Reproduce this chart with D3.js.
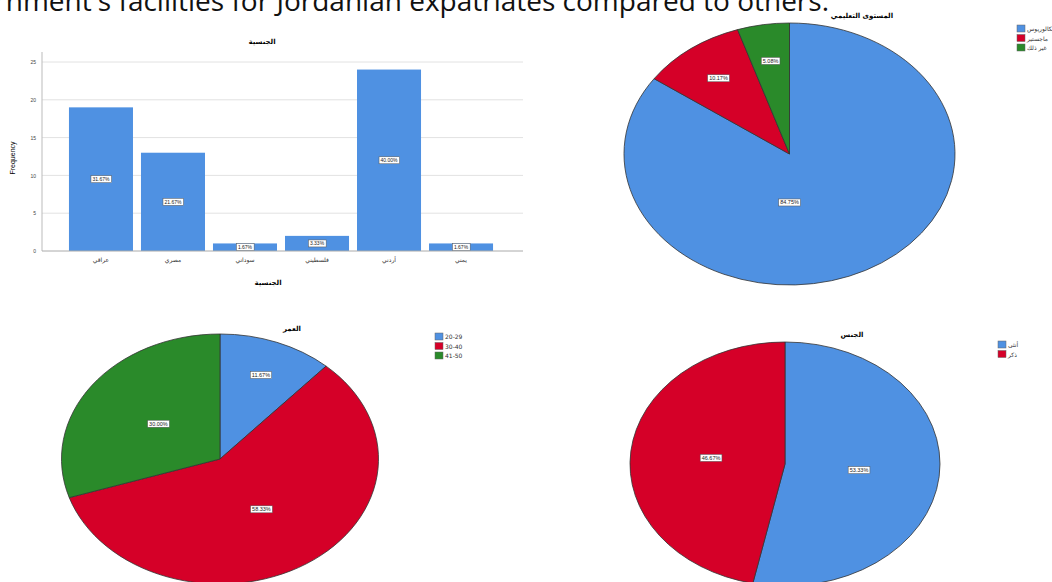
<!DOCTYPE html>
<html>
<head>
<meta charset="utf-8">
<script src="https://cdn.jsdelivr.net/npm/d3@7"></script>
<style>
  body { margin: 0; background: #fff; }
  svg { display: block; }
  .ar { font-family: "DejaVu Sans", sans-serif; }
</style>
</head>
<body>
<div id="chart"></div>
<script>
// data
var nationalityCats = ["عراقي", "مصري", "سوداني", "فلسطيني", "أردني", "يمني"];
var nationalityCounts = [19, 13, 1, 2, 24, 1];
var freqTicks = [0, 5, 10, 15, 20, 25];

var educationCats = ["بكالوريوس", "ماجستير", "غير ذلك"];
var educationPct = [84.75, 10.17, 5.08];

var ageCats = ["20-29", "30-40", "41-50"];
var agePct = [11.67, 58.33, 30.00];

var genderCats = ["أنثى", "ذكر"];
var genderPct = [53.33, 46.67];

var W = 1052, H = 582;
var colors = ["#4f91e2", "#d50028", "#2a8a2a"];

var svg = d3.select("#chart").append("svg")
    .attr("width", W).attr("height", H);

// slide heading, cut off at the top and left
svg.append("text")
    .attr("x", 829).attr("y", 11)
    .attr("text-anchor", "end")
    .attr("font-family", "Open Sans, sans-serif")
    .attr("font-size", 28)
    .attr("fill", "#111")
    .text("government's facilities for Jordanian expatriates compared to others.");

function pctLabel(g, x, y, txt, size) {
    var t = g.append("text")
        .attr("x", x).attr("y", y)
        .attr("text-anchor", "middle")
        .attr("dominant-baseline", "central")
        .attr("font-family", "Liberation Sans, sans-serif")
        .attr("font-size", size)
        .attr("fill", "#222")
        .text(txt);
    var b = t.node().getBBox();
    g.insert("rect", function() { return t.node(); })
        .attr("x", b.x - 1.5).attr("y", b.y - 0.5)
        .attr("width", b.width + 3).attr("height", b.height + 1)
        .attr("fill", "#fff")
        .attr("stroke", "#555").attr("stroke-width", 0.5);
}

// ---- bar chart: nationality ----
var total = d3.sum(nationalityCounts);
var x = d3.scaleBand()
    .domain(nationalityCats)
    .range([65, 497])
    .paddingInner(0.111)
    .paddingOuter(0.055);
var y = d3.scaleLinear().domain([0, 25]).range([251, 62]);

var bar = svg.append("g");

bar.append("g")
    .selectAll("line")
    .data(freqTicks.slice(1))
    .join("line")
    .attr("x1", 42).attr("x2", 523)
    .attr("y1", function(d) { return y(d); })
    .attr("y2", function(d) { return y(d); })
    .attr("stroke", "#e2e2e2").attr("stroke-width", 1);

bar.selectAll("rect.bar")
    .data(nationalityCounts)
    .join("rect")
    .attr("class", "bar")
    .attr("x", function(d, i) { return x(nationalityCats[i]); })
    .attr("y", function(d) { return y(d); })
    .attr("width", x.bandwidth())
    .attr("height", function(d) { return y(0) - y(d); })
    .attr("fill", colors[0]);

var yAxis = bar.append("g")
    .attr("transform", "translate(42,0)")
    .call(d3.axisLeft(y).tickValues(freqTicks).tickSize(0).tickPadding(6));
yAxis.select(".domain").attr("stroke", "#bbb").attr("d", "M0,52V251");
yAxis.selectAll("text").attr("font-size", 5).attr("fill", "#444");

var xAxis = bar.append("g")
    .attr("transform", "translate(0,251)")
    .call(d3.axisBottom(x).tickSize(0).tickPadding(7));
xAxis.select(".domain").attr("stroke", "#aaa").attr("d", "M42,0H523");
xAxis.selectAll("text").attr("class", "ar").attr("font-size", 6).attr("fill", "#333");

nationalityCounts.forEach(function(d, i) {
    pctLabel(bar, x(nationalityCats[i]) + x.bandwidth() / 2, y(d / 2),
        (d / total * 100).toFixed(2) + "%", 5);
});

bar.append("text").attr("class", "ar")
    .attr("x", 262).attr("y", 44)
    .attr("text-anchor", "middle").attr("font-size", 7).attr("font-weight", "bold")
    .text("الجنسية");
bar.append("text").attr("class", "ar")
    .attr("x", 268).attr("y", 285)
    .attr("text-anchor", "middle").attr("font-size", 7).attr("font-weight", "bold")
    .text("الجنسية");
bar.append("text")
    .attr("transform", "translate(15,158) rotate(-90)")
    .attr("text-anchor", "middle")
    .attr("font-family", "Liberation Sans, sans-serif")
    .attr("font-size", 7)
    .text("Frequency");

// ---- pies (stretched into ellipses like the picture) ----
function drawPie(o) {
    var g = svg.append("g");
    var pie = d3.pie().sort(null)(o.values);
    var arc = d3.arc().innerRadius(0).outerRadius(100);
    var sum = d3.sum(o.values);

    g.append("g")
        .attr("transform", "translate(" + o.cx + "," + o.cy + ") scale(" + (o.rx / 100) + "," + (o.ry / 100) + ")")
        .selectAll("path")
        .data(pie)
        .join("path")
        .attr("d", arc)
        .attr("fill", function(d, i) { return colors[i]; })
        .attr("stroke", "#333")
        .attr("stroke-width", 0.8)
        .attr("vector-effect", "non-scaling-stroke");

    pie.forEach(function(d) {
        var share = d.value / sum;
        var a = (d.startAngle + d.endAngle) / 2, f = 0.48;
        if (share < 0.15) f = 0.72;
        if (share > 0.75) { a = Math.PI; f = 0.37; }
        pctLabel(g, o.cx + o.rx * f * Math.sin(a), o.cy - o.ry * f * Math.cos(a),
            d.value.toFixed(2) + "%", 5.5);
    });

    g.append("text").attr("class", "ar")
        .attr("x", o.titleX).attr("y", o.titleY)
        .attr("text-anchor", "middle").attr("font-size", 7).attr("font-weight", "bold")
        .text(o.title);

    var leg = g.append("g").selectAll("g")
        .data(o.cats)
        .join("g")
        .attr("transform", function(d, i) { return "translate(" + o.legX + "," + (o.legY + i * 9.5) + ")"; });
    leg.append("rect")
        .attr("width", 8).attr("height", 7)
        .attr("fill", function(d, i) { return colors[i]; })
        .attr("stroke", "#666").attr("stroke-width", 0.5);
    leg.append("text").attr("class", "ar")
        .attr("x", 10).attr("y", 6)
        .attr("font-size", 6).attr("fill", "#333")
        .attr("direction", "ltr")
        .text(function(d) { return d; });
}

drawPie({ cx: 789.5, cy: 154, rx: 165.5, ry: 131, values: educationPct, cats: educationCats,
    title: "المستوى التعليمي", titleX: 862, titleY: 18, legX: 1017, legY: 25 });
drawPie({ cx: 220, cy: 459, rx: 158.5, ry: 125, values: agePct, cats: ageCats,
    title: "العمر", titleX: 292, titleY: 331, legX: 435, legY: 333 });
drawPie({ cx: 785, cy: 464, rx: 155, ry: 122, values: genderPct, cats: genderCats,
    title: "الجنس", titleX: 852, titleY: 337, legX: 998, legY: 341 });
</script>
</body>
</html>
